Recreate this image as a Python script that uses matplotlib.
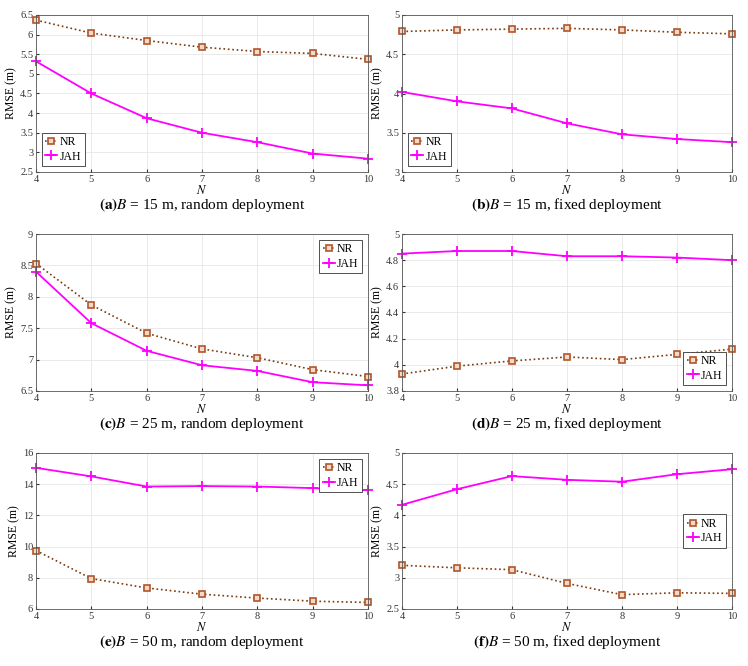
import numpy as np
import matplotlib.pyplot as plt

plt.rcParams['font.family'] = ['Liberation Serif', 'DejaVu Serif']
plt.rcParams['mathtext.fontset'] = 'stix'

N = [4, 5, 6, 7, 8, 9, 10]

nr_a = [6.37, 6.04, 5.85, 5.68, 5.57, 5.52, 5.37]
jah_a = [5.32, 4.50, 3.87, 3.50, 3.26, 2.97, 2.84]
nr_b = [4.79, 4.81, 4.82, 4.83, 4.81, 4.78, 4.76]
jah_b = [4.02, 3.90, 3.81, 3.62, 3.48, 3.42, 3.38]
nr_c = [8.53, 7.87, 7.42, 7.17, 7.03, 6.84, 6.73]
jah_c = [8.40, 7.58, 7.14, 6.91, 6.82, 6.64, 6.59]
nr_d = [3.93, 3.99, 4.03, 4.06, 4.04, 4.08, 4.12]
jah_d = [4.85, 4.87, 4.87, 4.83, 4.83, 4.82, 4.80]
nr_e = [9.75, 7.95, 7.35, 6.95, 6.70, 6.50, 6.42]
jah_e = [15.05, 14.50, 13.85, 13.88, 13.85, 13.75, 13.62]
nr_f = [3.20, 3.16, 3.13, 2.91, 2.73, 2.76, 2.75]
jah_f = [4.17, 4.42, 4.63, 4.57, 4.54, 4.66, 4.74]

panels = [
    ('a', 15, 'random', nr_a, jah_a, (2.5, 6.5), [2.5, 3, 3.5, 4, 4.5, 5, 5.5, 6, 6.5], 'lower left'),
    ('b', 15, 'fixed', nr_b, jah_b, (3, 5), [3, 3.5, 4, 4.5, 5], 'lower left'),
    ('c', 25, 'random', nr_c, jah_c, (6.5, 9), [6.5, 7, 7.5, 8, 8.5, 9], 'upper right'),
    ('d', 25, 'fixed', nr_d, jah_d, (3.8, 5), [3.8, 4, 4.2, 4.4, 4.6, 4.8, 5], 'lower right'),
    ('e', 50, 'random', nr_e, jah_e, (6, 16), [6, 8, 10, 12, 14, 16], 'upper right'),
    ('f', 50, 'fixed', nr_f, jah_f, (2.5, 5), [2.5, 3, 3.5, 4, 4.5, 5], 'center right'),
]

W, H = 748, 666
fig = plt.figure(figsize=(W / 100, H / 100), dpi=100)

# axes boxes in pixels: left, top, right, bottom
lefts = [36, 402]
rights = [368, 732]
tops = [15, 234, 453]
bottoms = [172, 391, 609]

for i, (lab, B, dep, nr, jah, ylim, yt, loc) in enumerate(panels):
    r, c = divmod(i, 2)
    l, t, rr, b = lefts[c], tops[r], rights[c], bottoms[r]
    ax = fig.add_axes([l / W, 1 - b / H, (rr - l) / W, (b - t) / H])
    ax.plot(N, nr, color='#7a3b10', ls=':', lw=1.2, marker='s', ms=4.5,
            mfc='#f4d9c6', mec='#b0562a', mew=1.2, label='NR', clip_on=False)
    ax.plot(N, jah, color='#ff00ff', ls='-', lw=1.3, marker='+', ms=7,
            mew=1.3, label='JAH', clip_on=False)
    ax.set_xlim(4, 10)
    ax.set_ylim(*ylim)
    ax.set_xticks(N)
    ax.set_yticks(yt)
    ax.set_yticklabels([f'{v:g}' for v in yt])
    ax.tick_params(labelsize=7.5, colors='#333333', length=2, direction='in', pad=2)
    ax.grid(True, color='#e6e6e6', lw=0.6)
    for s in ax.spines.values():
        s.set_color('#555555')
        s.set_linewidth(0.6)
    ax.set_xlabel('$N$', fontsize=9, labelpad=0)
    ax.set_ylabel('RMSE (m)', fontsize=8.5, labelpad=2)
    leg = ax.legend(loc=loc, fontsize=8.5, handlelength=1.0, handletextpad=0.2,
                    borderpad=0.3, labelspacing=0.2, fancybox=False,
                    edgecolor='#333333', framealpha=1)
    leg.get_frame().set_linewidth(0.6)
    cx = (l + rr) / 2 / W
    cy = 1 - (b + 37) / H
    fig.text(cx, cy, r'$\mathbf{(%s)}$' % lab + r'$B$ = %d m, %s deployment' % (B, dep),
             ha='center', va='baseline', fontsize=11)

fig.savefig('out.png', dpi=100)
